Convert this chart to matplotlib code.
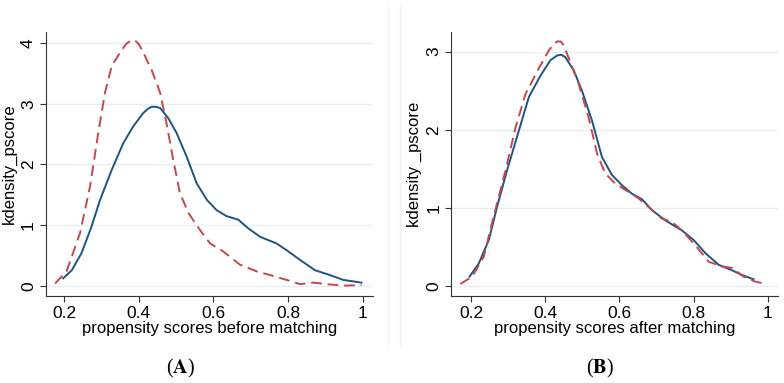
import numpy as np
import matplotlib
matplotlib.use("Agg")
import matplotlib.pyplot as plt
from matplotlib.lines import Line2D

plt.rcParams["font.family"] = ["Liberation Sans", "DejaVu Sans"]

# Panel A: before matching (treated = solid, control = dashed)
a_blue_x = [0.197, 0.22, 0.246, 0.273, 0.296, 0.327, 0.358, 0.385, 0.412, 0.425, 0.434,
            0.445, 0.457, 0.479, 0.501, 0.528, 0.555, 0.582, 0.608, 0.635, 0.667, 0.693,
            0.725, 0.769, 0.796, 0.832, 0.872, 0.912, 0.948, 0.997]
a_blue_y = [0.126, 0.26, 0.54, 0.98, 1.42, 1.91, 2.35, 2.63, 2.85, 2.92, 2.95,
            2.95, 2.93, 2.76, 2.52, 2.13, 1.69, 1.42, 1.25, 1.15, 1.09, 0.95,
            0.81, 0.70, 0.59, 0.43, 0.26, 0.18, 0.10, 0.055]
a_red_x = [0.175, 0.206, 0.242, 0.269, 0.291, 0.309, 0.327, 0.349, 0.365, 0.38, 0.39,
           0.40, 0.412, 0.434, 0.457, 0.474, 0.492, 0.51, 0.533, 0.564, 0.591, 0.626,
           0.671, 0.716, 0.76, 0.796, 0.832, 0.868, 0.904, 0.948, 0.997]
a_red_y = [0.04, 0.24, 0.87, 1.64, 2.52, 3.18, 3.62, 3.84, 3.98, 4.05, 4.04,
           3.98, 3.84, 3.56, 3.18, 2.68, 2.08, 1.53, 1.20, 0.92, 0.70, 0.57,
           0.35, 0.24, 0.165, 0.10, 0.03, 0.055, 0.03, 0.005, 0.015]

# Panel B: after matching
b_blue_x = [0.196, 0.221, 0.248, 0.27, 0.297, 0.329, 0.356, 0.387, 0.414, 0.432, 0.443,
            0.454, 0.477, 0.499, 0.526, 0.553, 0.58, 0.607, 0.634, 0.661, 0.688,
            0.724, 0.769, 0.80, 0.832, 0.868, 0.904, 0.931, 0.962]
b_blue_y = [0.12, 0.29, 0.59, 1.01, 1.48, 1.99, 2.42, 2.69, 2.89, 2.95, 2.96,
            2.93, 2.76, 2.50, 2.12, 1.65, 1.42, 1.29, 1.18, 1.11, 0.97,
            0.84, 0.71, 0.59, 0.42, 0.27, 0.20, 0.14, 0.085]
b_red_x = [0.171, 0.203, 0.234, 0.261, 0.293, 0.32, 0.347, 0.382, 0.409, 0.422, 0.432,
           0.442, 0.45, 0.468, 0.49, 0.517, 0.54, 0.562, 0.589, 0.616, 0.652, 0.684,
           0.715, 0.742, 0.769, 0.805, 0.841, 0.877, 0.904, 0.935, 0.967, 0.998]
b_red_y = [0.025, 0.12, 0.37, 0.89, 1.48, 2.03, 2.46, 2.78, 3.01, 3.09, 3.13,
           3.13, 3.08, 2.86, 2.59, 2.16, 1.69, 1.44, 1.31, 1.23, 1.12, 0.99,
           0.86, 0.82, 0.71, 0.52, 0.31, 0.25, 0.23, 0.12, 0.055, 0.025]

x_ticks = [0.2, 0.4, 0.6, 0.8, 1.0]
x_ticklabels = ["0.2", "0.4", "0.6", "0.8", "1"]

blue = "#1d5580"
red = "#c4474f"
grid_col = "#e4eff1"

fig = plt.figure(figsize=(7.84, 3.83), dpi=100)

# faint panel borders
fig.add_artist(Line2D([388 / 784, 388 / 784], [1 - 5 / 383, 1 - 345 / 383],
                      color="#eef4f4", lw=1.0))
fig.add_artist(Line2D([400 / 784, 400 / 784], [1 - 5 / 383, 1 - 345 / 383],
                      color="#eef4f4", lw=1.0))


def style_axis(ax, xlabel, ylabel, yticks, ylim, xlim):
    ax.set_xlim(*xlim)
    ax.set_ylim(*ylim)
    ax.set_xticks(x_ticks)
    ax.set_xticklabels(x_ticklabels)
    ax.set_yticks(yticks)
    ax.set_yticklabels([str(t) for t in yticks], rotation=90, va="center")
    for t in yticks:
        ax.axhline(t, color=grid_col, lw=1.0, zorder=0)
    ax.spines["top"].set_visible(False)
    ax.spines["right"].set_visible(False)
    ax.spines["left"].set_color("#333333")
    ax.spines["bottom"].set_color("#333333")
    ax.tick_params(direction="out", length=4, width=0.8, color="#333333",
                   labelsize=12.5, pad=3)
    ax.set_xlabel(xlabel, fontsize=12, labelpad=0)
    ax.set_ylabel(ylabel, fontsize=12, labelpad=3)


ax1 = fig.add_axes([0.0583, 0.2272, 0.4175, 0.689])
ax1.plot(a_blue_x, a_blue_y, color=blue, lw=1.4, solid_joinstyle="round")
ax1.plot(a_red_x, a_red_y, color=red, lw=1.4, dashes=(5.5, 3))
style_axis(ax1, "propensity scores before matching", "kdensity_pscore",
           [0, 1, 2, 3, 4], (-0.165, 4.18), (0.15, 1.028))

ax2 = fig.add_axes([0.5753, 0.2272, 0.4167, 0.689])
ax2.plot(b_blue_x, b_blue_y, color=blue, lw=1.4, solid_joinstyle="round")
ax2.plot(b_red_x, b_red_y, color=red, lw=1.4, dashes=(5.5, 3))
style_axis(ax2, "propensity scores after matching", "kdensity _pscore",
           [0, 1, 2, 3], (-0.128, 3.25), (0.146, 1.027))

fig.text(180 / 784, 1 - 368 / 383, r"($\mathbf{A}$)", ha="center", va="center",
         fontsize=14.5, family="Liberation Serif", math_fontfamily="stix")
fig.text(600 / 784, 1 - 368 / 383, r"($\mathbf{B}$)", ha="center", va="center",
         fontsize=14.5, family="Liberation Serif", math_fontfamily="stix")

fig.savefig("out.png", dpi=100)
